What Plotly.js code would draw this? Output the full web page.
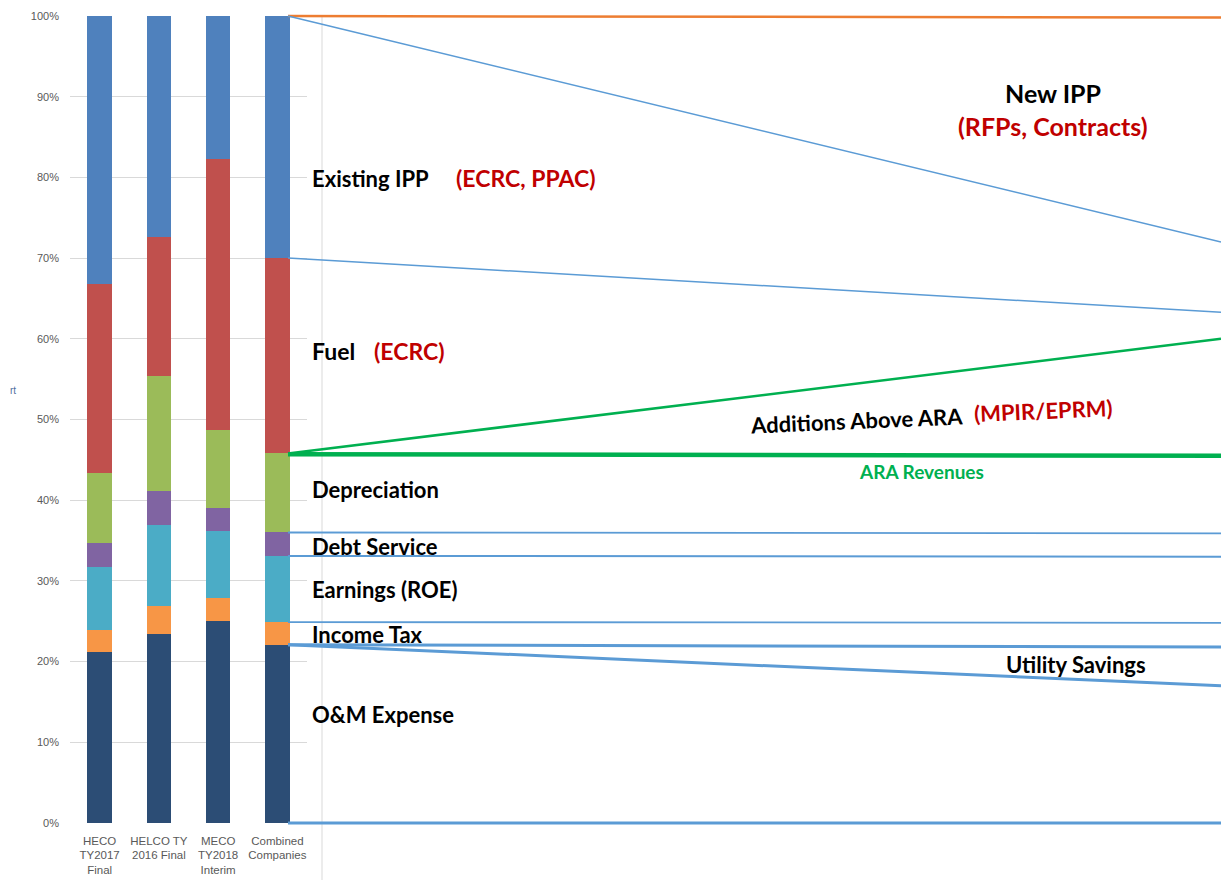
<!DOCTYPE html>
<html>
<head>
<meta charset="utf-8">
<script src="https://cdn.plot.ly/plotly-3.0.1.min.js"></script>
<style>html,body{margin:0;padding:0;background:#fff;}#chart{width:1221px;height:880px;}</style>
</head>
<body>
<div id="chart"></div>
<script>
// ---- Data: stacked bars (percent of revenue requirement) ----
var categories = ["HECO<br>TY2017<br>Final", "HELCO TY<br>2016 Final", "MECO<br>TY2018<br>Interim", "Combined<br>Companies"];
var omExpense    = [21.2, 23.4, 25.0, 22.1];
var incomeTax    = [2.7, 3.5, 2.9, 2.8];
var earnings     = [7.8, 10.0, 8.3, 8.2];
var debtService  = [3.0, 4.2, 2.8, 3.0];
var depreciation = [8.7, 14.3, 9.7, 9.7];
var fuel         = [23.4, 17.2, 33.6, 24.2];
var existingIPP  = [33.2, 27.4, 17.7, 30.0];

var yTickVals = [0, 10, 20, 30, 40, 50, 60, 70, 80, 90, 100];
var yTickText = ["0%", "10%", "20%", "30%", "40%", "50%", "60%", "70%", "80%", "90%", "100%"];

// ---- Data: projection lines (now -> future), percent ----
var projX              = [0, 1];
var topLine            = [100, 99.8];
var newIppBoundary     = [100, 72.0];
var existingIppBoundary= [70.0, 63.3];
var additionsBoundary  = [45.8, 60.0];
var araRevenues        = [45.7, 45.5];
var deprecBoundary     = [36.0, 35.9];
var debtBoundary       = [33.1, 33.0];
var earningsBoundary   = [24.9, 24.8];
var incomeTaxBoundary  = [22.1, 21.8];
var savingsBoundary    = [22.1, 17.0];
var baseLine           = [0, 0];

// ---- geometry helpers (layout only) ----
var ML = 70, MT = 6, PW = 1151, PH = 824;
function px(x){ return (x - ML) / PW; }
function py(y){ return (MT + PH - y) / PH; }
var yDom = [py(823), py(16)];

var segs = [
  {name:"O&M Expense", v:omExpense, c:"#2C4D75"},
  {name:"Income Tax", v:incomeTax, c:"#F79646"},
  {name:"Earnings (ROE)", v:earnings, c:"#4BACC6"},
  {name:"Debt Service", v:debtService, c:"#8064A2"},
  {name:"Depreciation", v:depreciation, c:"#9BBB59"},
  {name:"Fuel", v:fuel, c:"#C0504D"},
  {name:"Existing IPP", v:existingIPP, c:"#4F81BD"}
];
var traces = segs.map(function(s){
  return {type:"bar", x:categories, y:s.v, name:s.name, marker:{color:s.c, line:{width:0}},
          width:0.41, xaxis:"x", yaxis:"y", showlegend:false, hoverinfo:"skip"};
});

var blue = "#5B9BD5", green = "#00B050", orange = "#ED7D31";
function ln(y, color, w){
  return {type:"scatter", mode:"lines", x:projX, y:y, xaxis:"x2", yaxis:"y2",
          line:{color:color, width:w}, showlegend:false, hoverinfo:"skip"};
}
traces.push(ln(topLine, orange, 2.5));
traces.push(ln(newIppBoundary, blue, 1.5));
traces.push(ln(existingIppBoundary, blue, 1.5));
traces.push(ln(additionsBoundary, green, 2.5));
traces.push(ln(araRevenues, green, 4.5));
traces.push(ln(deprecBoundary, blue, 1.8));
traces.push(ln(debtBoundary, blue, 2));
traces.push(ln(earningsBoundary, blue, 1.8));
traces.push(ln(incomeTaxBoundary, blue, 3));
traces.push(ln(savingsBoundary, blue, 3));
traces.push(ln(baseLine, blue, 3));

// x2: 0 at right edge of last bar (288px), 1 at right edge (1221px)
var unit = 1221 - 288;
var x2range = [(ML - 288) / unit, 1];
var pxPerPct = 807 / 100;
var y2range = [(823 - (MT + PH)) / pxPerPct, (823 - MT) / pxPerPct];

var F = "Lato, 'Open Sans', sans-serif";
function lab(text, x, y, opts){
  opts = opts || {};
  return {text:text, x:px(x), y:py(y), xref:"paper", yref:"paper",
          xanchor:opts.xa || "left", yanchor:"middle", showarrow:false,
          textangle:opts.angle || 0, borderpad:0,
          font:{family:F, size:opts.size || 22, color:opts.color || "#000", weight:"bold"}};
}
var red = "#C00000";
var annotations = [
  lab("Existing IPP", 311, 178),
  lab("(ECRC, PPAC)", 455, 178, {color:red, size:23}),
  lab("New IPP", 1053, 93, {xa:"center", size:25}),
  lab("(RFPs, Contracts)", 1053, 126, {xa:"center", color:red, size:25}),
  lab("Fuel", 311, 351, {size:23}),
  lab("(ECRC)", 373, 351, {color:red, size:23}),
  lab("Additions Above ARA", 856, 420, {xa:"center", angle:-2.5, size:22}),
  lab("(MPIR/EPRM)", 1043, 411, {xa:"center", angle:-2.5, size:22, color:red}),
  lab("ARA Revenues", 921, 471, {xa:"center", color:green, size:19}),
  lab("Depreciation", 311, 489),
  lab("Debt Service", 311, 546),
  lab("Earnings (ROE)", 311, 589),
  lab("Income Tax", 311, 634),
  lab("O&M Expense", 311, 714),
  lab("Utility Savings", 1076, 664, {xa:"center"}),
  {text:"rt", x:px(13), y:py(390), xref:"paper", yref:"paper", xanchor:"center", yanchor:"middle",
   showarrow:false, font:{family:"Liberation Sans, sans-serif", size:10, color:"#4F6FA0"}}
];

var layout = {
  width:1221, height:880,
  margin:{l:ML, r:0, t:MT, b:880 - MT - PH, pad:0},
  paper_bgcolor:"#ffffff", plot_bgcolor:"rgba(0,0,0,0)",
  barmode:"stack",
  showlegend:false,
  xaxis:{domain:[0, px(307)], anchor:"y", type:"category", range:[-0.5, 3.5],
         showgrid:false, showline:false, zeroline:false, ticks:"", ticklabelstandoff:9,
         tickfont:{family:"Liberation Sans, sans-serif", size:11.5, color:"#595959"}, fixedrange:true},
  yaxis:{domain:yDom, anchor:"x", range:[0, 100], tickvals:yTickVals, ticktext:yTickText,
         showgrid:true, gridcolor:"#D9D9D9", gridwidth:1, zeroline:false, showline:false, ticks:"",
         ticklabelstandoff:10,
         tickfont:{family:"Liberation Sans, sans-serif", size:11, color:"#595959"}, fixedrange:true},
  xaxis2:{domain:[0, 1], anchor:"y2", range:x2range, visible:false, fixedrange:true},
  yaxis2:{domain:[0, 1], anchor:"x2", range:y2range, visible:false, fixedrange:true},
  shapes:[{type:"line", xref:"paper", yref:"paper", x0:px(322), x1:px(322), y0:py(16), y1:py(880),
           line:{color:"#D9D9D9", width:1}, layer:"below"}],
  annotations:annotations
};

Plotly.newPlot("chart", traces, layout, {staticPlot:true, displayModeBar:false});
</script>
</body>
</html>
